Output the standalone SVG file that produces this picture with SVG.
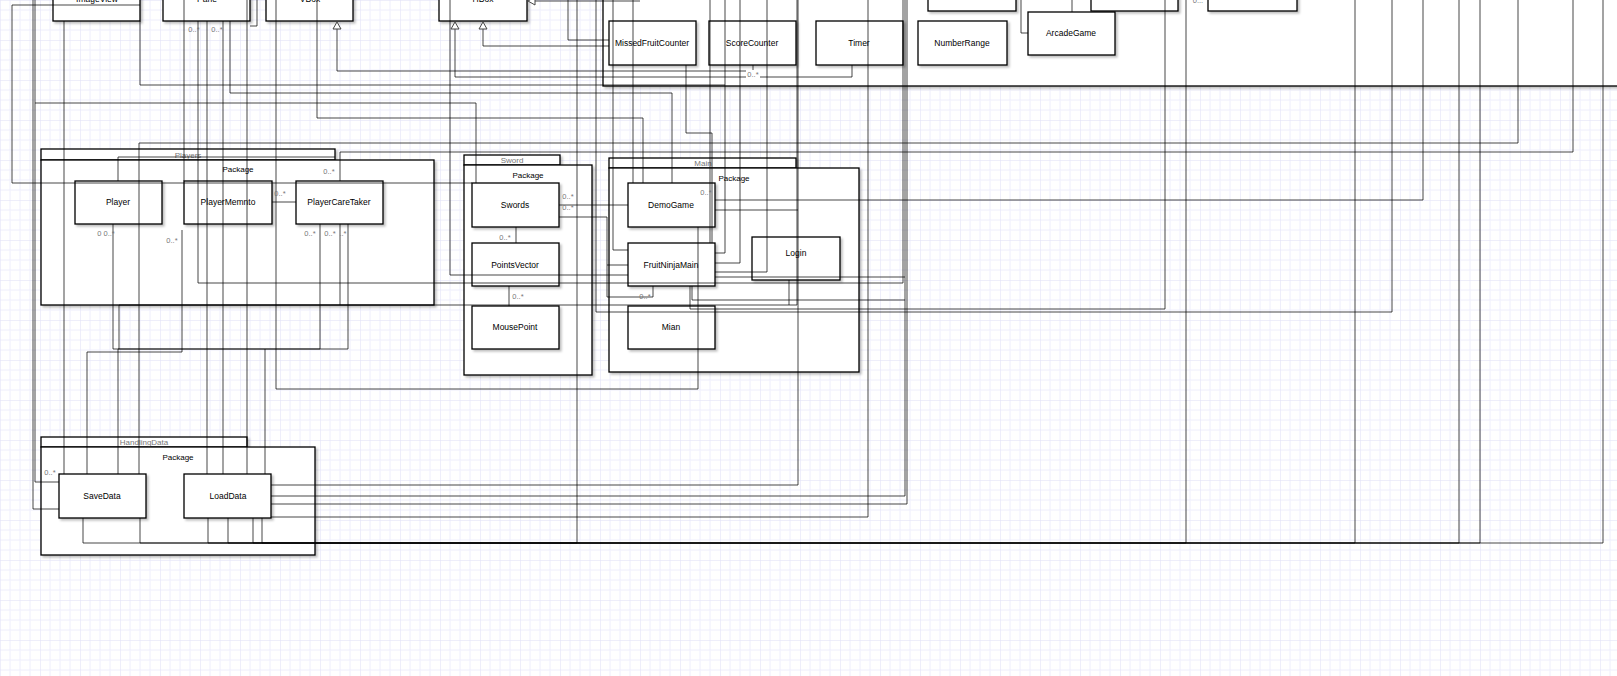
<svg xmlns="http://www.w3.org/2000/svg" width="1617" height="676" viewBox="0 0 1617 676">
<defs>
<pattern id="g" width="40" height="40" patternUnits="userSpaceOnUse">
<path d="M10 0V40M20 0V40M30 0V40M0 10H40M0 20H40M0 30H40" stroke="#eeeefc" stroke-width="1" fill="none"/>
<path d="M0 0V40M0 0H40" stroke="#dedef6" stroke-width="1" fill="none"/>
</pattern>
<filter id="sh" x="-10%" y="-10%" width="130%" height="130%">
<feDropShadow dx="2" dy="2" stdDeviation="1" flood-color="#000" flood-opacity="0.25"/>
</filter>
<style>
.pk{fill:#fff;stroke:#000;stroke-width:1.3;filter:url(#sh)}
.bx{fill:#fff;stroke:#000;stroke-width:1.3;filter:url(#sh)}
.c path{fill:none;stroke:#000;stroke-opacity:.72;stroke-width:1}
.t{font-family:"Liberation Sans",Arial,sans-serif;font-size:8.5px;fill:#000;text-anchor:middle}
.pl{font-family:"Liberation Sans",Arial,sans-serif;font-size:8px;fill:#000;text-anchor:middle}
.tb{font-family:"Liberation Sans",Arial,sans-serif;font-size:8px;fill:#777;text-anchor:middle}
.m{font-family:"Liberation Sans",Arial,sans-serif;font-size:7.5px;fill:#777;text-anchor:middle}
.tri{fill:#fff;stroke:#444;stroke-width:1}
</style>
</defs>
<rect width="1617" height="676" fill="#fff"/>
<rect width="1617" height="676" fill="url(#g)"/>

<g id="pkg-top"><rect class="pk" x="603" y="-10" width="1030" height="96"/></g>
<g id="pkg-players">
<rect class="pk" x="41" y="149" width="294" height="11"/><text class="tb" x="188" y="158">Players</text>
<rect class="pk" x="41" y="160" width="393" height="145"/><text class="pl" x="238" y="172">Package</text>
</g>
<g id="pkg-sword">
<rect class="pk" x="464" y="155" width="96" height="10"/><text class="tb" x="512" y="163">Sword</text>
<rect class="pk" x="464" y="165" width="128" height="210"/><text class="pl" x="528" y="178">Package</text>
</g>
<g id="pkg-main">
<rect class="pk" x="609" y="158" width="187" height="10"/><text class="tb" x="703" y="166">Main</text>
<rect class="pk" x="609" y="168" width="250" height="204"/><text class="pl" x="734" y="181">Package</text>
</g>
<g id="pkg-handling">
<rect class="pk" x="41" y="437" width="206" height="10"/><text class="tb" x="144" y="445">HandlingData</text>
<rect class="pk" x="41" y="447" width="274" height="108"/><text class="pl" x="178" y="460">Package</text>
</g>

<g id="n-imageview"><rect class="bx" x="53" y="-23" width="87" height="44"/><text class="t" x="97" y="2">ImageView</text></g>
<g id="n-pane"><rect class="bx" x="163" y="-23" width="87" height="44"/><text class="t" x="207" y="2">Pane</text></g>
<g id="n-vbox"><rect class="bx" x="266" y="-23" width="87" height="44"/><text class="t" x="310" y="2">VBox</text></g>
<g id="n-hbox"><rect class="bx" x="439" y="-23" width="88" height="44"/><text class="t" x="483" y="2">HBox</text></g>
<g id="n-top1"><rect class="bx" x="928" y="-33" width="88" height="44"/></g>
<g id="n-top2"><rect class="bx" x="1091" y="-33" width="87" height="44"/></g>
<g id="n-top3"><rect class="bx" x="1208" y="-33" width="89" height="44"/></g>
<g id="n-missed"><rect class="bx" x="609" y="21" width="87" height="44"/><text class="t" x="652" y="46">MissedFruitCounter</text></g>
<g id="n-score"><rect class="bx" x="709" y="21" width="87" height="44"/><text class="t" x="752" y="46">ScoreCounter</text></g>
<g id="n-timer"><rect class="bx" x="816" y="21" width="87" height="44"/><text class="t" x="859" y="46">Timer</text></g>
<g id="n-numberrange"><rect class="bx" x="918" y="21" width="89" height="44"/><text class="t" x="962" y="46">NumberRange</text></g>
<g id="n-arcade"><rect class="bx" x="1028" y="12" width="87" height="43"/><text class="t" x="1071" y="36">ArcadeGame</text></g>
<g id="n-player"><rect class="bx" x="75" y="181" width="87" height="43"/><text class="t" x="118" y="205">Player</text></g>
<g id="n-memnto"><rect class="bx" x="184" y="181" width="88" height="43"/><text class="t" x="228" y="205">PlayerMemnto</text></g>
<g id="n-caretaker"><rect class="bx" x="296" y="181" width="87" height="43"/><text class="t" x="339" y="205">PlayerCareTaker</text></g>
<g id="n-swords"><rect class="bx" x="472" y="183" width="87" height="44"/><text class="t" x="515" y="208">Swords</text></g>
<g id="n-pointsvector"><rect class="bx" x="472" y="243" width="87" height="43"/><text class="t" x="515" y="268">PointsVector</text></g>
<g id="n-mousepoint"><rect class="bx" x="472" y="306" width="87" height="43"/><text class="t" x="515" y="330">MousePoint</text></g>
<g id="n-demogame"><rect class="bx" x="628" y="183" width="87" height="44"/><text class="t" x="671" y="208">DemoGame</text></g>
<g id="n-fruitninjamain"><rect class="bx" x="628" y="243" width="87" height="43"/><text class="t" x="671" y="268">FruitNinjaMain</text></g>
<g id="n-mian"><rect class="bx" x="628" y="306" width="87" height="43"/><text class="t" x="671" y="330">Mian</text></g>
<g id="n-login"><rect class="bx" x="752" y="237" width="88" height="43"/><text class="t" x="796" y="256">Login</text></g>
<g id="n-savedata"><rect class="bx" x="59" y="474" width="87" height="44"/><text class="t" x="102" y="499">SaveData</text></g>
<g id="n-loaddata"><rect class="bx" x="184" y="474" width="87" height="44"/><text class="t" x="228" y="499">LoadData</text></g>

<g id="connectors" class="c">
<path d="M140,5 H12 V183 H472"/>
<path d="M33,-5 V509 H59"/>
<path d="M35,-5 V482 H59"/>
<path d="M35,103 H476 V183"/>
<path d="M64,21 V474"/>
<path d="M140,21 V85 H725"/>
<path d="M184,-5 V181"/>
<path d="M198,21 V283 H903 V-5"/>
<path d="M207,21 V474"/>
<path d="M230,21 V93 H672 V183"/>
<path d="M223,21 V474"/>
<path d="M247,-5 V474"/>
<path d="M257,-5 V26 H250"/>
<path d="M753,65 V71 H337 V29"/>
<path d="M852,65 V77 H455 V29"/>
<path d="M609,46 H483 V29"/>
<path d="M568,-5 V40 H609"/>
<path d="M640,1 H535"/>
<path d="M317,-5 V118 H643 V183"/>
<path d="M276,-5 V389 H698 V227"/>
<path d="M139,143 H1518 V-5"/>
<path d="M139,143 V474"/>
<path d="M113,224 V349 H320 V224"/>
<path d="M348,224 V349 H118 V474"/>
<path d="M182,230 V352 H87 V474"/>
<path d="M265,349 V474"/>
<path d="M340,181 V152 H1573 V-5"/>
<path d="M118,181 V157 H335"/>
<path d="M797,-5 V305 H119 V349"/>
<path d="M340,224 V305"/>
<path d="M450,-5 V275 H628"/>
<path d="M577,-5 V543"/>
<path d="M1392,-5 V312 H596 V-5"/>
<path d="M1165,-5 V309 H690 V286"/>
<path d="M633,-5 V183"/>
<path d="M613,-5 V250 H628"/>
<path d="M559,205 H628"/>
<path d="M559,217 H607 V265 H628"/>
<path d="M516,227 V243"/>
<path d="M509,286 V306"/>
<path d="M653,286 V297 H607 V265"/>
<path d="M686,65 V133 H712 V243"/>
<path d="M725,-5 V253 H715"/>
<path d="M740,-5 V263 H715"/>
<path d="M767,-5 V272 H715"/>
<path d="M798,-5 V485 H271"/>
<path d="M905,-5 V496 H271"/>
<path d="M907,-5 V504 H271"/>
<path d="M868,-5 V517 H271"/>
<path d="M1603,-5 V543 H83 V518"/>
<path d="M1186,-5 V543 H208 V518"/>
<path d="M1355,-5 V543 H228 V518"/>
<path d="M1459,-5 V543 H253 V518"/>
<path d="M1480,-5 V543 H262 V518"/>
<path d="M577,543 H140 V518"/>
<path d="M1423,-5 V200 H715"/>
<path d="M789,280 V305"/>
<path d="M715,277 H905"/>
<path d="M692,286 V300 H905"/>
<path d="M1021,-5 V33 H1028"/>
<path d="M1072,-5 V12"/>
<path d="M715,210 H798"/>
<path d="M710,-5 V243"/>
<path d="M272,202 H296"/>
<polygon class="tri" points="337,22 333,29 341,29"/>
<polygon class="tri" points="455,22 451,29 459,29"/>
<polygon class="tri" points="483,22 479,29 487,29"/>
<polygon class="tri" points="528,1 535,-3 535,5"/>
</g>

<g id="mult">
<text class="m" x="194" y="32">0..*</text>
<text class="m" x="217" y="32">0..*</text>
<rect x="746" y="70" width="14" height="8" fill="#fff"/>
<text class="m" x="753" y="77">0..*</text>
<text class="m" x="1198" y="3">0...</text>
<text class="m" x="329" y="174">0..*</text>
<text class="m" x="280" y="196">0..*</text>
<text class="m" x="106" y="236">0 0..*</text>
<text class="m" x="172" y="243">0..*</text>
<text class="m" x="310" y="236">0..*</text>
<text class="m" x="330" y="236">0..*</text>
<text class="m" x="343" y="236">..*</text>
<text class="m" x="568" y="199">0..*</text>
<text class="m" x="568" y="210">0..*</text>
<text class="m" x="505" y="240">0..*</text>
<text class="m" x="518" y="299">0..*</text>
<text class="m" x="706" y="195">0..*</text>
<text class="m" x="645" y="299">0..*</text>
<text class="m" x="50" y="475">0..*</text>
</g>
</svg>
